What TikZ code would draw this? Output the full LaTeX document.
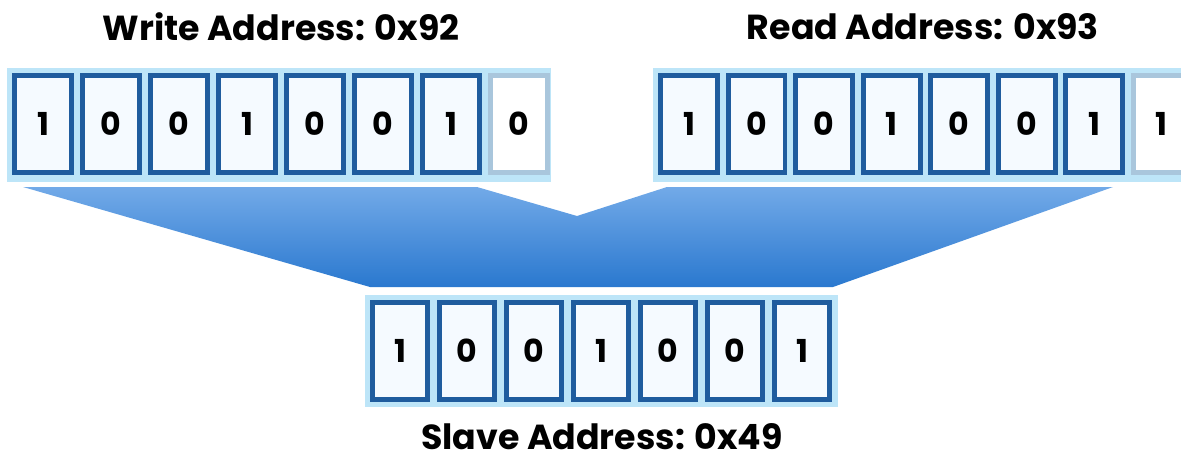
\documentclass[tikz,border=0pt]{standalone}
\usepackage{fontspec}
\setmainfont{Poppins}
\usepackage{xcolor}
\usetikzlibrary{positioning,calc}

\definecolor{bitedge}{HTML}{1F5C9E}
\definecolor{bitfill}{HTML}{F5FAFF}
\definecolor{bithalo}{HTML}{BDE5F8}
\definecolor{rwedge}{HTML}{A9C6DC}
\definecolor{funneltop}{HTML}{72AAE8}
\definecolor{funnelbot}{HTML}{2A78CF}

\begin{document}
\begin{tikzpicture}[
  x=0.02cm,y=-0.02cm,
  bit/.style={draw=bitedge,line width=0.1cm,fill=bitfill,
              minimum width=1.14cm,minimum height=1.94cm,inner sep=0pt,
              font=\fontsize{18}{21}\selectfont\bfseries},
  rwbit/.style={bit,draw=rwedge,fill=white},
  slavebit/.style={bit,minimum width=1.1cm},
  halo/.style={fill=bithalo},
  every node/.style={font=\fontsize{19.8}{23}\selectfont\bfseries}
]
\useasboundingbox (0,0) rectangle (1181,463);

% Funnel from both addresses down to the slave address
\coordinate (ftl) at (23,187);
\coordinate (fvl) at (477,187);
\coordinate (fv) at (577,216);
\coordinate (fvr) at (667,187);
\coordinate (ftr) at (1113,187);
\coordinate (fbr) at (833,287);
\coordinate (fbl) at (370,287);
\shade[top color=funneltop,bottom color=funnelbot]
  (ftl) -- (fvl) -- (fv) -- (fvr) -- (ftr) -- (fbr) -- (fbl) -- cycle;

% Write address
\node (wlabel) at (281,27) {Write Address: 0x92};
\fill[halo] (7,68) rectangle (551,182);
\node[bit] (w1) at (43,124) {1};
\node[bit] (w2) at (111,124) {0};
\node[bit] (w3) at (179,124) {0};
\node[bit] (w4) at (247,124) {1};
\node[bit] (w5) at (315,124) {0};
\node[bit] (w6) at (383,124) {0};
\node[bit] (w7) at (451,124) {1};
\node[rwbit] (w8) at (519,124) {0};

% Read address
\node (rlabel) at (923,27) {Read Address: 0x93};
\fill[halo] (653,68) rectangle (1181,182);
\node[bit] (r1) at (689,124) {1};
\node[bit] (r2) at (756.5,124) {0};
\node[bit] (r3) at (824,124) {0};
\node[bit] (r4) at (891.5,124) {1};
\node[bit] (r5) at (959,124) {0};
\node[bit] (r6) at (1026.5,124) {0};
\node[bit] (r7) at (1094,124) {1};
\node[rwbit] (r8) at (1161.5,124) {1};

% Slave address
\fill[halo] (365,295) rectangle (838,407);
\node[slavebit] (s1) at (400,351) {1};
\node[slavebit] (s2) at (467,351) {0};
\node[slavebit] (s3) at (534,351) {0};
\node[slavebit] (s4) at (601,351) {1};
\node[slavebit] (s5) at (668,351) {0};
\node[slavebit] (s6) at (735,351) {0};
\node[slavebit] (s7) at (802,351) {1};
\node[anchor=base,inner sep=1pt] (slabel) at (602,449) {Slave Address: 0x49};
\end{tikzpicture}
\end{document}
